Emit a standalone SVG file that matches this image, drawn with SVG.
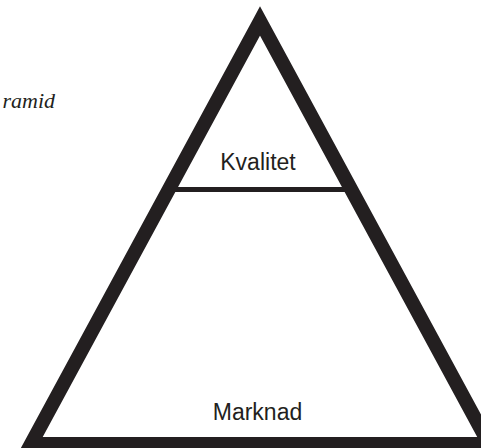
<svg xmlns="http://www.w3.org/2000/svg" width="481" height="448" viewBox="0 0 481 448">
  <style>
    .edge { fill: none; stroke: #231f20; stroke-linejoin: miter; stroke-miterlimit: 10; }
    .label { font-family: "Liberation Sans", Arial, sans-serif; font-size: 23px; fill: #231f20; text-anchor: middle; }
    .title { font-family: "Liberation Serif", "Times New Roman", serif; font-style: italic; font-size: 22px; fill: #231f20; text-anchor: end; }
  </style>
  <rect width="481" height="448" fill="#ffffff"/>
  <text class="title" x="55" y="108">ramid</text>
  <g id="pyramid">
    <path class="edge" stroke-width="14" d="M260,21 L31,444 L489,444 Z"/>
  </g>
  <g id="connectors">
    <line class="edge" stroke-width="5" x1="168" y1="189.5" x2="352" y2="189.5"/>
  </g>
  <g id="node-kvalitet">
    <text class="label" x="258" y="170">Kvalitet</text>
  </g>
  <g id="node-marknad">
    <text class="label" x="257.5" y="420">Marknad</text>
  </g>
</svg>
